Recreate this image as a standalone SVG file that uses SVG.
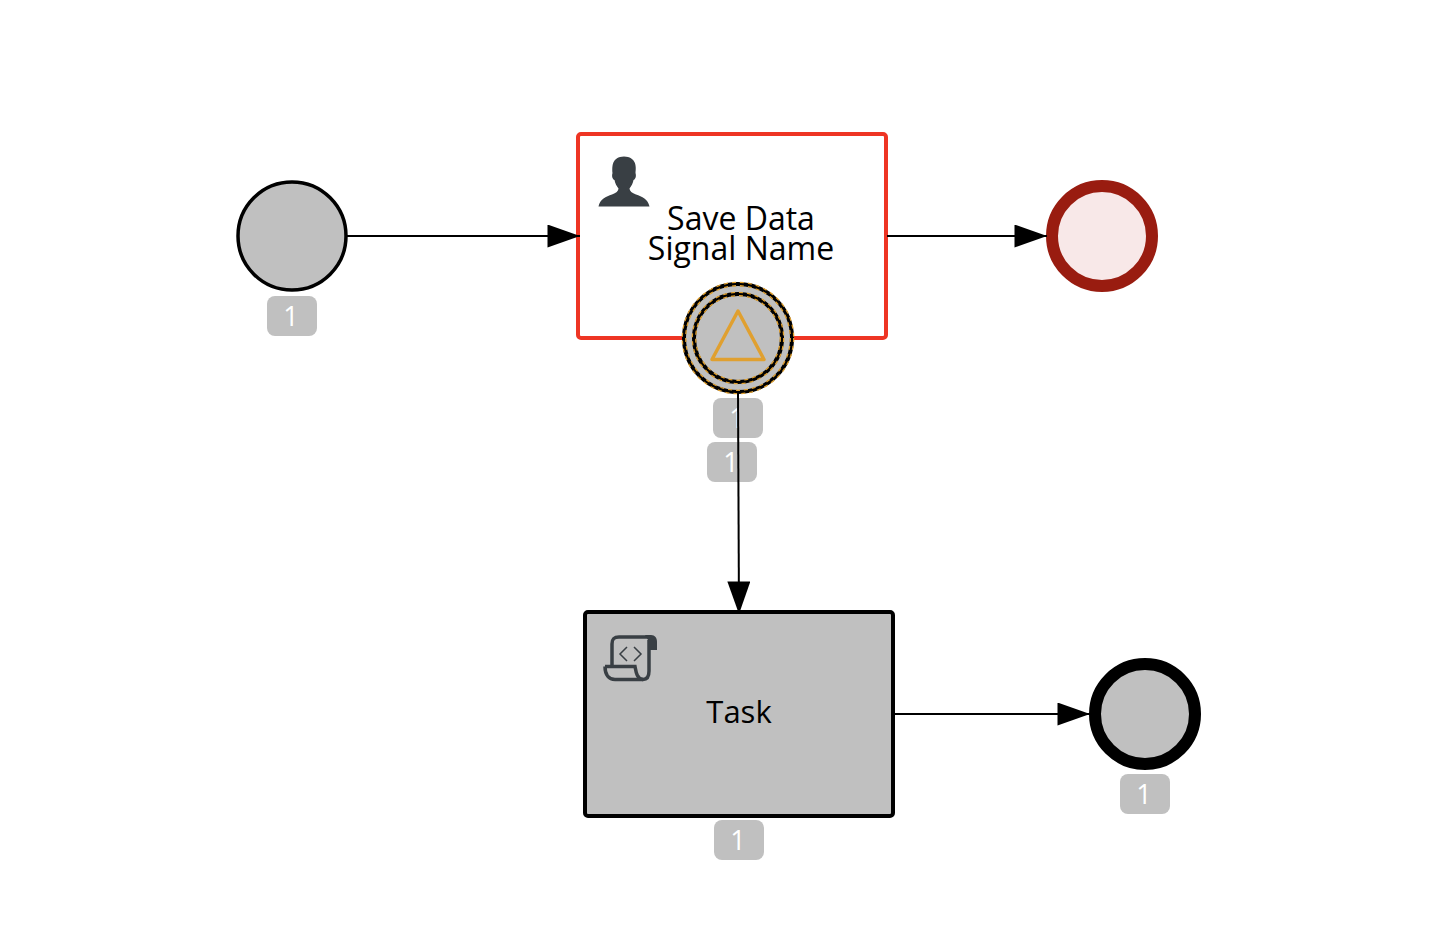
<svg xmlns="http://www.w3.org/2000/svg" width="1454" height="928" viewBox="0 0 1454 928">
<defs>
<style>
.label{font-family:"Open Sans","Noto Sans",sans-serif;font-size:32px;fill:#000;text-anchor:middle}
.badge rect{fill:#c0c0c0}
.badge text{font-family:"Open Sans","Noto Sans",sans-serif;font-size:27px;fill:#fff;text-anchor:middle}
.flow{fill:none;stroke:#000;stroke-width:2}
.icon{fill:#393f44}
.ring{fill:none;stroke:#000;stroke-width:4}
.dash{fill:none;stroke:#e0a030;stroke-width:1.300;stroke-dasharray:4 4}
</style>
<marker id="arrow" markerUnits="userSpaceOnUse" markerWidth="34" markerHeight="24" refX="33" refY="11.5" orient="auto">
<path d="M0.500 0L33 11.500L0.500 23Z" fill="#000"/>
</marker>
</defs>
<rect width="1454" height="928" fill="#fff"/>
<g id="start-event">
<circle cx="292" cy="236" r="54" fill="#c0c0c0" stroke="#000" stroke-width="3.500"/>
</g>
<g id="user-task">
<rect x="578" y="134" width="308" height="204" rx="3" fill="#fff" stroke="#ee3524" stroke-width="4"/>
<path class="icon" d="M598.500 206.500C600 199 606 196.500 612 194.500C616 193 618.500 191 618.500 188.500C616.500 186 615 183 614.500 180C612.500 179.500 611.500 176 612.500 173C612 166 612 157 624 156.500C636 157 636.500 166 635.500 173C636.500 176 635.500 179.500 633.500 180C633 183 631.500 186 629.500 188.500C629.500 191 632 193 636 194.500C642 196.500 648 199 649.500 206.500Z"/>
<text class="label" x="741" y="230">Save Data</text>
<text class="label" x="741" y="260">Signal Name</text>
</g>
<g id="end-event-error">
<circle cx="1102" cy="236" r="50" fill="#f8e8e8" stroke="#991c10" stroke-width="12"/>
</g>
<g id="boundary-event">
<circle cx="738" cy="338" r="54" fill="#c0c0c0"/>
<circle class="ring" cx="738" cy="338" r="54"/>
<circle class="ring" cx="738" cy="338" r="44"/>
<circle class="dash" cx="738" cy="338" r="55.700"/>
<circle class="dash" cx="738" cy="338" r="52.300"/>
<circle class="dash" cx="738" cy="338" r="45.700"/>
<circle class="dash" cx="738" cy="338" r="42.300"/>
<path d="M738 311L764 359.500H712Z" fill="none" stroke="#e0a030" stroke-width="3.500" stroke-linejoin="round"/>
</g>
<g id="script-task">
<rect x="585" y="612" width="308" height="204" rx="3" fill="#c0c0c0" stroke="#000" stroke-width="4"/>
<g fill="none" stroke="#393f44" stroke-width="3.500">
<path d="M612 666V644C612 639 614 637 619 637H650"/>
<path d="M605 666.500H635C636 672 637 679 643 679.500C648 679.500 649 675 649 671V640"/>
<path d="M605 666.500C605 675 609 679.500 615 679.500H643"/>
</g>
<path class="icon" d="M645 635H651C655 635 657 638 657 642V650H648V640Z"/>
<path d="M627 647L620 654L627 661M634 647L641 654L634 661" fill="none" stroke="#393f44" stroke-width="1.500"/>
<text class="label" x="739" y="723" style="font-size:31px">Task</text>
</g>
<g id="end-event">
<circle cx="1145" cy="714" r="50" fill="#c0c0c0" stroke="#000" stroke-width="12"/>
</g>
<g id="badge-start" class="badge"><rect x="267" y="296" width="50" height="40" rx="8"/><text x="291" y="326">1</text></g>
<g id="badge-boundary" class="badge"><rect x="713" y="398" width="50" height="40" rx="8"/><text x="737" y="428">1</text></g>
<g id="badge-boundary-flow" class="badge"><rect x="707" y="442" width="50" height="40" rx="8"/><text x="731" y="472">1</text></g>
<g id="badge-task" class="badge"><rect x="714" y="820" width="50" height="40" rx="8"/><text x="738" y="850">1</text></g>
<g id="badge-end" class="badge"><rect x="1120" y="774" width="50" height="40" rx="8"/><text x="1144" y="804">1</text></g>
<g id="connectors">
<path class="flow" marker-end="url(#arrow)" d="M347 236H580"/>
<path class="flow" marker-end="url(#arrow)" d="M887 236H1047"/>
<path class="flow" marker-end="url(#arrow)" d="M738 392L739 614"/>
<path class="flow" marker-end="url(#arrow)" d="M894 714H1090"/>
</g>
</svg>
